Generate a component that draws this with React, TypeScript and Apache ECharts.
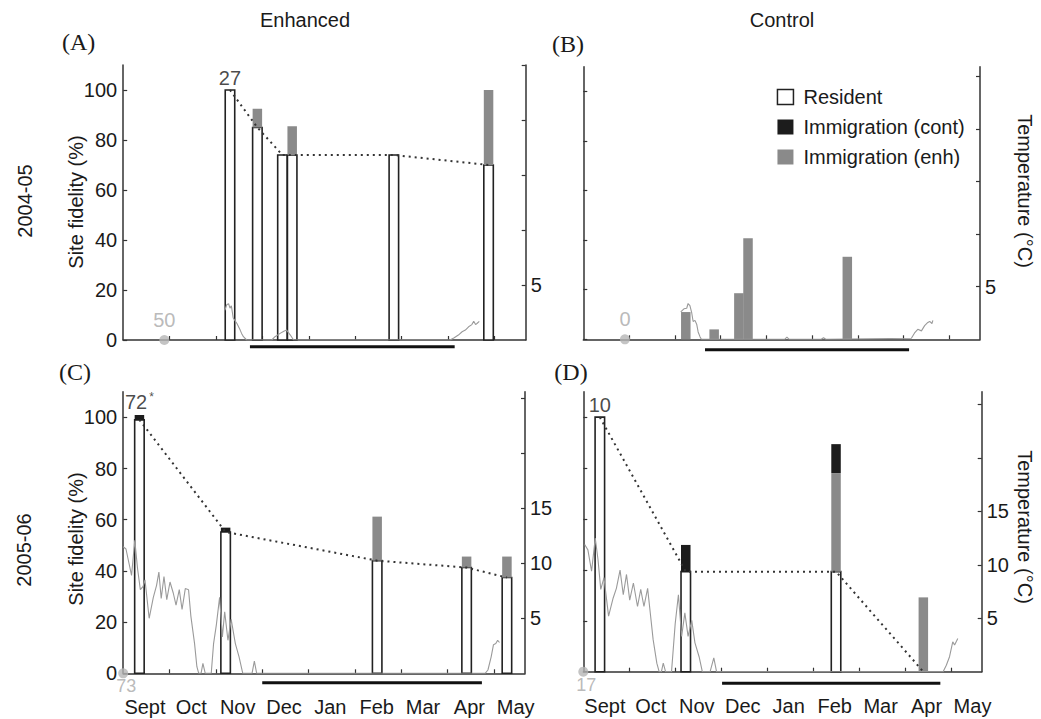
import React, { useEffect, useRef } from 'react';
import * as echarts from 'echarts';

const FONT = '"Liberation Sans", Arial, Helvetica, sans-serif';
const SERIF = '"Liberation Serif", "Times New Roman", serif';
const INK = '#1a1a1a';
const AXIS = '#333';

// ---------- tick labels ----------
const monthLabels = ['Sept', 'Oct', 'Nov', 'Dec', 'Jan', 'Feb', 'Mar', 'Apr', 'May'];
const fidelityTicks = [0, 20, 40, 60, 80, 100];
const tempTicks = [5, 10, 15, 20, 25];
const tempLabels2004 = [5];
const tempLabels2005 = [5, 10, 15];

// ---------- Panel A (Enhanced 2004-05) ----------
const barMonthsA = [2.3, 2.89, 3.43, 3.64, 5.83, 7.87];
const residentA = [100, 85, 74, 74, 74, 70];
const immEnhA = [0, 7.5, 0, 11.5, 0, 30];
const immContA = [0, 0, 0, 0, 0, 0];
const tempA: number[][] = [
  [2.19, 2.7], [2.23, 3.2], [2.27, 3.3], [2.3, 2.9], [2.33, 3.1], [2.37, 2.0], [2.45, 1.5], [2.52, 0.9],
  [2.55, 0.6], [2.59, 0.3], [2.66, 0], [3.2, 0], [3.27, 0.3], [3.38, 0.6], [3.46, 0.8], [3.52, 0.9],
  [3.6, 0.45], [3.67, 0], [7.04, 0], [7.13, 0.2], [7.22, 0.45], [7.3, 0.75], [7.37, 0.9], [7.44, 1.2],
  [7.51, 1.4], [7.55, 1.7], [7.59, 1.4], [7.62, 1.5], [7.67, 1.7],
];
const winterA = [2.73, 7.14];

// ---------- Panel B (Control 2004-05) ----------
const barMonthsB = [2.24, 2.86, 3.4, 3.6, 5.77];
const residentB = [0, 0, 0, 0, 0];
const immEnhB = [11, 4, 18.6, 40.8, 33.3];
const immContB = [0, 0, 0, 0, 0];
const tempB: number[][] = [
  [2.13, 2.6], [2.2, 2.9], [2.26, 2.95], [2.29, 3.4], [2.33, 3.2], [2.37, 2.5], [2.4, 1.7], [2.44, 1.8],
  [2.48, 1.4], [2.51, 0.7], [2.55, 0.25], [2.58, 0], [4.4, 0], [4.45, 0.2], [4.5, 0], [5.2, 0], [5.25, 0.15],
  [5.3, 0], [7.17, 0.1], [7.24, 0.6], [7.31, 0.95], [7.39, 0.8], [7.46, 1.3], [7.53, 1.6], [7.57, 1.7],
  [7.62, 1.5], [7.64, 1.8],
];
const winterB = [2.66, 7.12];

// ---------- Panel C (Enhanced 2005-06) ----------
const barMonthsC = [0.35, 2.21, 5.48, 7.41, 8.28];
const residentC = [99, 55.2, 44, 41.3, 37.4];
const immEnhC = [0, 0, 17.2, 4.3, 8.2];
const immContC = [1.9, 1.7, 0, 0, 0];
const tempC: number[][] = [
  [0, 11.5], [0.06, 11.3], [0.11, 10.3], [0.18, 8.9], [0.25, 12.1], [0.31, 9.5], [0.37, 7.6], [0.43, 7.9],
  [0.47, 8.5], [0.56, 5.0], [0.65, 6.9], [0.72, 8.0], [0.77, 9.2], [0.82, 6.8], [0.88, 8.8], [0.94, 6.7],
  [1.01, 8.3], [1.08, 7.3], [1.14, 6.2], [1.21, 7.6], [1.27, 5.8], [1.34, 7.7], [1.41, 7.6], [1.46, 5.2],
  [1.54, 2.7], [1.59, 0.6], [1.63, 0], [1.68, 0], [1.72, 0.9], [1.77, 0], [1.9, 0], [1.95, 2.7], [2.01, 4.4],
  [2.08, 6.9], [2.14, 3.3], [2.19, 5.6], [2.26, 3.0], [2.33, 4.9], [2.42, 2.7], [2.5, 1.5], [2.58, 0],
  [2.78, 0], [2.83, 1.1], [2.88, 0], [7.81, 0], [7.87, 0.3], [7.94, 1.5], [7.99, 2.6], [8.04, 2.7],
  [8.08, 3.0], [8.12, 2.8],
];
const winterC = [3.0, 7.74];

// ---------- Panel D (Control 2005-06) ----------
const barMonthsD = [0.36, 2.23, 5.5, 7.4];
const residentD = [100, 39.3, 39.3, 0];
const immEnhD = [0, 0, 38.7, 29.2];
const immContD = [0, 10.5, 11.4, 0];
const tempD: number[][] = [
  [0.03, 11.9], [0.1, 11.4], [0.18, 9.4], [0.26, 12.5], [0.32, 10.5], [0.38, 7.7], [0.45, 8.8], [0.55, 5.2],
  [0.65, 6.9], [0.72, 7.8], [0.8, 9.5], [0.87, 7.2], [0.94, 9.1], [1.01, 6.7], [1.09, 8.3], [1.18, 6.1],
  [1.25, 7.7], [1.32, 6.1], [1.4, 7.8], [1.45, 5.8], [1.52, 3.0], [1.6, 0.8], [1.65, 0], [1.7, 0],
  [1.74, 0.8], [1.79, 0], [1.92, 0], [2.0, 4.5], [2.07, 7.2], [2.14, 3.3], [2.21, 5.5], [2.28, 3.3],
  [2.36, 4.8], [2.43, 2.7], [2.52, 1.4], [2.59, 0], [2.76, 0], [2.84, 1.3], [2.9, 0], [7.83, 0],
  [7.9, 0.6], [7.97, 1.4], [8.04, 2.8], [8.08, 2.5], [8.15, 3.1],
];
const winterD = [3.02, 7.77];

// tagging-day markers (month, number tagged) and first-sample counts
const tagMonths = [0.886, 0.91, 0, 0];
const tagCounts = ['50', '0', '73', '17'];
const firstCounts = ['27', '', '72*', '10'];

// axis extents (x in months since 1 Sept)
const X_MAX = 8.67;
const FID_MAX = 110;
const tempMax = [25, 25.9, 25.6, 26.2];

// ---------- layout / style ----------
const GRIDS = [
  { left: 123.2, top: 65, width: 402.5, height: 275 },
  { left: 583.3, top: 66.7, width: 396.7, height: 272.6 },
  { left: 123.2, top: 391.7, width: 401.8, height: 281.6 },
  { left: 583.3, top: 391.7, width: 398.4, height: 280 },
];
const winterOffsetPx = [6.7, 10.5, 9.4, 11.6];
const BAR_W = 9.5;
const RES_STYLE = { fill: '#fff', stroke: '#222', lineWidth: 1.6 };
const ENH_STYLE = { fill: '#8a8a8a', stroke: null, lineWidth: 0 };
const CONT_STYLE = { fill: '#1c1c1c', stroke: null, lineWidth: 0 };

const panels = [
  { months: barMonthsA, res: residentA, enh: immEnhA, cont: immContA, temp: tempA, winter: winterA, line: true, leftLabels: true, bottomLabels: false, tempLabels: tempLabels2004 },
  { months: barMonthsB, res: residentB, enh: immEnhB, cont: immContB, temp: tempB, winter: winterB, line: false, leftLabels: false, bottomLabels: false, tempLabels: tempLabels2004 },
  { months: barMonthsC, res: residentC, enh: immEnhC, cont: immContC, temp: tempC, winter: winterC, line: true, leftLabels: true, bottomLabels: true, tempLabels: tempLabels2005 },
  { months: barMonthsD, res: residentD, enh: immEnhD, cont: immContD, temp: tempD, winter: winterD, line: true, leftLabels: false, bottomLabels: true, tempLabels: tempLabels2005 },
];

function stackedBarSeries(name: string, i: number, rows: number[][], style: any) {
  return {
    type: 'custom', name, xAxisIndex: i, yAxisIndex: 2 * i, z: 2, silent: true, clip: false,
    encode: { x: 0, y: [1, 2] },
    itemStyle: { color: style.fill },
    data: rows,
    renderItem: (_params: any, api: any) => {
      const x = api.value(0);
      const lo = api.value(1);
      const hi = api.value(2);
      if (!(hi > lo)) return null;
      const p0 = api.coord([x, lo]);
      const p1 = api.coord([x, hi]);
      return {
        type: 'rect',
        shape: { x: p0[0] - BAR_W / 2, y: p1[1], width: BAR_W, height: p0[1] - p1[1] },
        style: { fill: style.fill, stroke: style.stroke, lineWidth: style.lineWidth },
      };
    },
  };
}

function buildOption() {
  const textBase = { fontFamily: FONT, fontSize: 20, color: INK };
  const xAxis: any[] = [];
  const yAxis: any[] = [];
  const series: any[] = [];

  panels.forEach((p, i) => {
    xAxis.push({
      type: 'value', gridIndex: i, min: 0, max: X_MAX, interval: 1,
      axisLine: { show: true, onZero: false, lineStyle: { color: AXIS, width: 1.5 } },
      axisTick: { show: true, inside: true, length: 4, customValues: monthLabels.map((_, k) => k).slice(1), lineStyle: { color: AXIS, width: 1.2 } },
      axisLabel: p.bottomLabels
        ? { show: true, ...textBase, margin: 24, customValues: monthLabels.map((_, k) => k + 0.47), formatter: (v: number) => monthLabels[Math.round(v - 0.47)] || '' }
        : { show: false },
      splitLine: { show: false },
    });
    yAxis.push({
      type: 'value', gridIndex: i, position: 'left', min: 0, max: FID_MAX, interval: 20,
      axisLine: { show: true, onZero: false, lineStyle: { color: AXIS, width: 1.5 } },
      axisTick: { show: true, inside: true, length: 4, customValues: fidelityTicks, lineStyle: { color: AXIS, width: 1.2 } },
      axisLabel: p.leftLabels ? { show: true, ...textBase, margin: 6, customValues: fidelityTicks } : { show: false },
      splitLine: { show: false },
    });
    yAxis.push({
      type: 'value', gridIndex: i, position: 'right', min: 0, max: tempMax[i], interval: 5,
      axisLine: { show: true, onZero: false, lineStyle: { color: AXIS, width: 1.5 } },
      axisTick: { show: true, inside: true, length: 4, customValues: tempTicks, lineStyle: { color: AXIS, width: 1.2 } },
      axisLabel: { show: true, ...textBase, margin: 5, customValues: p.tempLabels },
      splitLine: { show: false },
    });

    // stacked bars: resident (bottom), immigration enh (middle), immigration cont (top)
    const resRows = p.months.map((m, k) => [m, 0, p.res[k]]);
    const enhRows = p.months.map((m, k) => [m, p.res[k], p.res[k] + p.enh[k]]);
    const contRows = p.months.map((m, k) => [m, p.res[k] + p.enh[k], p.res[k] + p.enh[k] + p.cont[k]]);
    series.push(stackedBarSeries('Resident', i, resRows, RES_STYLE));
    series.push(stackedBarSeries('Immigration (enh)', i, enhRows, ENH_STYLE));
    series.push(stackedBarSeries('Immigration (cont)', i, contRows, CONT_STYLE));

    // temperature trace
    series.push({
      type: 'line', xAxisIndex: i, yAxisIndex: 2 * i + 1, data: p.temp, symbol: 'none', z: 6,
      lineStyle: { color: '#9a9a9a', width: 1.1 }, silent: true,
    });

    // dotted resident-fidelity line
    if (p.line) {
      series.push({
        type: 'line', xAxisIndex: i, yAxisIndex: 2 * i, symbol: 'none', z: 5,
        data: p.months.map((m, k) => [m, p.res[k]]),
        lineStyle: { color: '#333', width: 2, type: [2, 4] }, silent: true,
      });
    }

    // winter period bar below the axis
    const yw = -winterOffsetPx[i] / (GRIDS[i].height / FID_MAX);
    series.push({
      type: 'line', xAxisIndex: i, yAxisIndex: 2 * i, symbol: 'none', clip: false, z: 3,
      data: [[p.winter[0], yw], [p.winter[1], yw]],
      lineStyle: { color: '#111', width: 3 }, silent: true,
    });

    // tagging marker
    const below = i >= 2;
    series.push({
      type: 'scatter', xAxisIndex: i, yAxisIndex: 2 * i, clip: false, z: 7,
      symbolSize: 10, itemStyle: { color: '#b5b5b5' },
      data: [[tagMonths[i], 0]],
      label: {
        show: true, formatter: tagCounts[i], position: below ? 'bottom' : 'top', distance: below ? 0 : 5,
        offset: below ? [3, -1] : [0, 0], fontFamily: FONT, fontSize: below ? 18 : 20, color: '#a8a8a8',
      },
      silent: true,
    });

    // count above first sample bar
    if (firstCounts[i]) {
      const top = p.res[0] + p.enh[0] + p.cont[0];
      const txt = firstCounts[i];
      const star = txt.endsWith('*');
      series.push({
        type: 'scatter', xAxisIndex: i, yAxisIndex: 2 * i, clip: false, z: 7,
        symbolSize: 0, data: [[p.months[0], top]],
        label: {
          show: true, position: 'top', distance: 2,
          formatter: star ? `{n|${txt.slice(0, -1)}}{s|*}` : txt,
          fontFamily: FONT, fontSize: 20, color: INK,
          rich: {
            n: { fontFamily: FONT, fontSize: 20, color: INK },
            s: { fontFamily: FONT, fontSize: 12, color: INK, verticalAlign: 'top', padding: [0, 0, 10, 2] },
          },
        },
        silent: true,
      });
    }
  });

  const t = (text: string, x: number, y: number, extra: any = {}) => ({
    type: 'text', x, y, silent: true, ...extra,
    style: { text, fontFamily: FONT, fontSize: 20, fill: INK, align: 'center', verticalAlign: 'middle', ...(extra.style || {}) },
  });

  const graphic = [
    t('Enhanced', 305, 20),
    t('Control', 782, 20),
    t('(A)', 78.6, 42, { style: { fontFamily: SERIF, fontSize: 24 } }),
    t('(B)', 568, 44, { style: { fontFamily: SERIF, fontSize: 24 } }),
    t('(C)', 75, 372, { style: { fontFamily: SERIF, fontSize: 24 } }),
    t('(D)', 571, 372, { style: { fontFamily: SERIF, fontSize: 24 } }),
    t('2004-05', 25, 201, { rotation: Math.PI / 2 }),
    t('2005-06', 24, 550, { rotation: Math.PI / 2 }),
    t('Site fidelity (%)', 76, 202, { rotation: Math.PI / 2 }),
    t('Site fidelity (%)', 76, 539, { rotation: Math.PI / 2 }),
    t('Temperature (°C)', 1025, 191, { rotation: -Math.PI / 2 }),
    t('Temperature (°C)', 1025, 527, { rotation: -Math.PI / 2 }),
  ];

  return {
    animation: false,
    backgroundColor: '#fff',
    grid: GRIDS.map((g) => ({ ...g, containLabel: false })),
    xAxis,
    yAxis,
    series,
    graphic,
    legend: {
      orient: 'vertical', left: 771.7, top: 82, itemWidth: 16, itemHeight: 15, itemGap: 10,
      icon: 'rect', selectedMode: false,
      textStyle: { fontFamily: FONT, fontSize: 20, color: INK, padding: [0, 0, 0, 5] },
      data: [
        { name: 'Resident', itemStyle: { color: '#fff', borderColor: '#222', borderWidth: 1.5 } },
        { name: 'Immigration (cont)', itemStyle: { color: '#1c1c1c', borderWidth: 0 } },
        { name: 'Immigration (enh)', itemStyle: { color: '#8a8a8a', borderWidth: 0 } },
      ],
    },
  };
}

export default function App() {
  const ref = useRef<HTMLDivElement>(null);
  useEffect(() => {
    if (!ref.current) return;
    const chart = echarts.init(ref.current, undefined, { renderer: 'svg' });
    chart.setOption(buildOption() as any);
    return () => chart.dispose();
  }, []);
  return <div ref={ref} style={{ position: 'absolute', left: 0, top: 0, width: 1041, height: 719 }} />;
}
